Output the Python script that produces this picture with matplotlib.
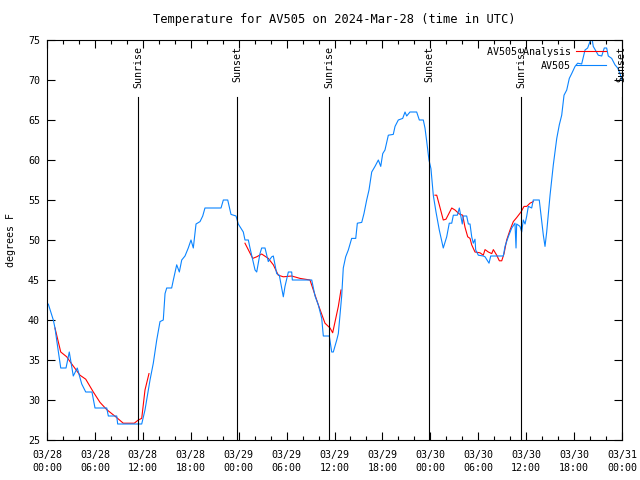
import numpy as np
import pandas as pd
import matplotlib
matplotlib.use("Agg")
import matplotlib.pyplot as plt
from matplotlib.ticker import MultipleLocator, FixedLocator

START = pd.Timestamp("2024-03-28 00:00")

# observed station temperature (hours after START, deg F)
obs_hours = [0.0, 0.16, 0.79, 1.0, 1.21, 1.72, 2.38, 2.79, 3.29, 3.79, 4.35, 4.85,
             5.63, 6.01, 7.48, 7.68, 8.73, 8.85, 11.86, 12.27, 12.9, 13.31, 13.74,
             14.15, 14.56, 14.78, 14.99, 15.61, 15.82, 16.24, 16.57, 16.87, 17.28,
             17.69, 18.03, 18.32, 18.66, 19.16, 19.5, 19.78, 21.79, 22.08, 22.63,
             23.04, 23.67, 23.95, 24.58, 24.79, 25.21, 25.42, 25.76, 26.05, 26.26,
             26.67, 26.88, 27.3, 27.71, 28.14, 28.34, 28.76, 29.09, 29.59, 29.8,
             30.22, 30.64, 30.72, 33.15, 33.56, 33.97, 34.4, 34.6, 35.35, 35.65,
             35.85, 36.28, 36.48, 36.9, 37.1, 37.4, 37.73, 38.15, 38.66, 38.86,
             39.41, 39.69, 40.03, 40.32, 40.66, 41.07, 41.49, 41.79, 42.04, 42.32,
             42.74, 43.36, 43.58, 43.99, 44.54, 44.83, 45.04, 45.45, 46.29, 46.62,
             47.12, 47.33, 47.55, 47.83, 48.08, 48.37, 48.71, 49.12, 49.62, 50.05,
             50.37, 50.68, 50.88, 51.38, 51.63, 51.8, 52.0, 52.13, 52.55, 52.76,
             52.97, 53.18, 53.38, 53.59, 53.68, 54.01, 54.63, 54.85, 55.35, 55.56,
             57.14, 57.35, 57.76, 58.19, 58.6, 58.73, 58.81, 59.23, 59.44, 59.64,
             59.86, 60.07, 60.27, 60.69, 60.89, 61.64, 61.95, 62.15, 62.36, 62.57,
             62.99, 63.4, 63.83, 64.15, 64.45, 64.74, 65.08, 65.4, 65.7, 66.12,
             66.45, 66.95, 67.37, 67.7, 67.99, 68.2, 68.4, 69.03, 69.46, 69.78,
             70.08, 70.28, 70.71, 71.12, 71.46, 71.75, 72.0]
obs_temp = [42, 42, 40, 39, 37.5, 34, 34, 36, 33, 34, 32, 31,
            31, 29, 29, 28, 28, 27, 27, 28.75, 32.5, 34.6, 37.5,
            39.8, 40, 43.3, 44, 44, 45, 46.9, 46, 47.5, 48,
            49, 50, 49, 52, 52.3, 53, 54, 54, 55, 55,
            53.2, 53, 52, 51, 50, 50, 49, 47.5, 46.25, 46,
            48.3, 49, 49, 47.3, 47.9, 48, 45.8, 45.6, 42.9, 44.2,
            46, 46, 45, 45, 43, 41.9, 40.2, 38, 38, 36,
            36, 37.5, 38.3, 43, 46.5, 47.9, 48.75, 50.2, 50.2, 52.1,
            52.2, 53.3, 55, 56.25, 58.5, 59.2, 60, 59.2, 60.8, 61.25,
            63.1, 63.2, 64.2, 65, 65.2, 66, 65.5, 66, 66, 65,
            65, 64, 62.3, 60, 58.9, 55.6, 53.5, 51.25, 49, 50.4,
            52.1, 52.1, 53.1, 53.1, 54, 53.1, 52, 53, 53, 52,
            52, 50.4, 49.6, 50.1, 48.75, 48.1, 48, 47.9, 47.1, 48,
            48, 49.2, 50.4, 51.5, 52.1, 49, 52, 51.7, 51, 52.5,
            52, 53, 54.2, 54, 55, 55, 52.3, 50.6, 49.2, 51,
            55.6, 59.4, 62.7, 64.4, 65.6, 68.1, 68.75, 70.2, 70.8, 71.7,
            72.1, 72, 73.75, 74, 74.8, 75.5, 74.2, 73.1, 73, 74,
            74, 73, 72.7, 71.9, 71.5, 70.8, 70]

# analysis temperature, three segments separated by NaN gaps
ana_hours = [1.0, 1.72, 2.47, 2.88, 4.13, 4.85, 5.8, 6.64, 7.48, 8.73, 9.55, 10.93,
             11.43, 11.86, 12.27, 12.77, np.nan,
             24.79, 25.76, 26.26, 26.88, 27.71, 28.34, 28.96, 29.59, 30.64, 31.68,
             32.93, 33.35, 33.97, 34.81, 35.44, 35.77, 36.48, 36.81, np.nan,
             48.58, 48.8, 49.12, 49.62, 49.96, 50.68, 51.09, 51.63, 52.05, 52.34,
             52.68, 52.97, 53.18, 53.59, 54.22, 54.63, 54.85, 55.26, 55.69, 55.89,
             56.31, 56.64, 56.94, 57.23, 57.56, 57.98, 58.39, 58.81, 59.35, 59.73,
             60.07, 60.48, 60.89]
ana_temp = [39, 36, 35.4, 34.8, 33.1, 32.6, 31, 29.7, 28.8, 27.8, 27.1, 27.1,
            27.5, 27.7, 31.25, 33.3, np.nan,
            49.6, 47.7, 47.9, 48.25, 47.7, 46.9, 45.6, 45.4, 45.5, 45.2,
            45, 43.75, 41.9, 39.6, 39, 38.4, 41.7, 43.75, np.nan,
            55.6, 55.6, 54.4, 52.5, 52.6, 54, 53.75, 53.25, 53.1, 51.6,
            50.4, 50.2, 49.4, 48.5, 48.4, 48.1, 48.8, 48.5, 48.3, 48.8,
            48.1, 47.4, 47.4, 48.3, 50, 51.25, 52.3, 52.8, 53.5, 54.2,
            54.2, 54.6, 54.8]

sun_hours = [11.4, 23.83, 35.35, 47.87, 59.35, 71.98]
sun_labels = ["Sunrise", "Sunset", "Sunrise", "Sunset", "Sunrise", "Sunset"]

OBS_COLOR = "#0a84ff"
ANA_COLOR = "#ff0000"
FONT = "DejaVu Sans Mono"
FS = 7.2

plt.rcParams["font.family"] = FONT
plt.rcParams["font.size"] = FS

fig = plt.figure(figsize=(6.4, 4.8), dpi=100)
ax = fig.add_axes([47 / 640, 1 - 440 / 480, 575 / 640, 400 / 480])

ax.plot(ana_hours, ana_temp, color=ANA_COLOR, lw=0.8, label="AV505 Analysis")
ax.plot(obs_hours, obs_temp, color=OBS_COLOR, lw=0.8, label="AV505")

for h, lab in zip(sun_hours, sun_labels):
    ax.plot([h, h], [25, 67.9], color="black", lw=0.8)
    ax.text(h, 74.2, lab, rotation=90, ha="center", va="top", fontsize=FS)

ax.set_xlim(0, 72)
ax.set_ylim(25, 75)
major = list(range(0, 73, 6))
ax.xaxis.set_major_locator(FixedLocator(major))
ax.xaxis.set_minor_locator(MultipleLocator(2))
ax.set_xticklabels([(START + pd.Timedelta(hours=h)).strftime("%m/%d\n%H:%M") for h in major],
                   linespacing=1.4)
ax.yaxis.set_major_locator(MultipleLocator(5))
ax.tick_params(which="both", direction="in", top=True, right=True, width=0.8)
ax.tick_params(which="major", length=6)
ax.tick_params(which="minor", length=3)
ax.tick_params(axis="x", pad=7)
ax.tick_params(axis="y", pad=5)
for s in ax.spines.values():
    s.set_linewidth(0.8)

ax.set_ylabel("degrees F", labelpad=9)
ax.set_title("Temperature for AV505 on 2024-Mar-28 (time in UTC)", pad=12)

ax.legend(loc="upper right", frameon=False, markerfirst=False, handlelength=3.0,
          handletextpad=0.55, borderaxespad=0.3, labelspacing=0.4,
          bbox_to_anchor=(0.985, 1.0))

fig.savefig("out.png", dpi=100)
